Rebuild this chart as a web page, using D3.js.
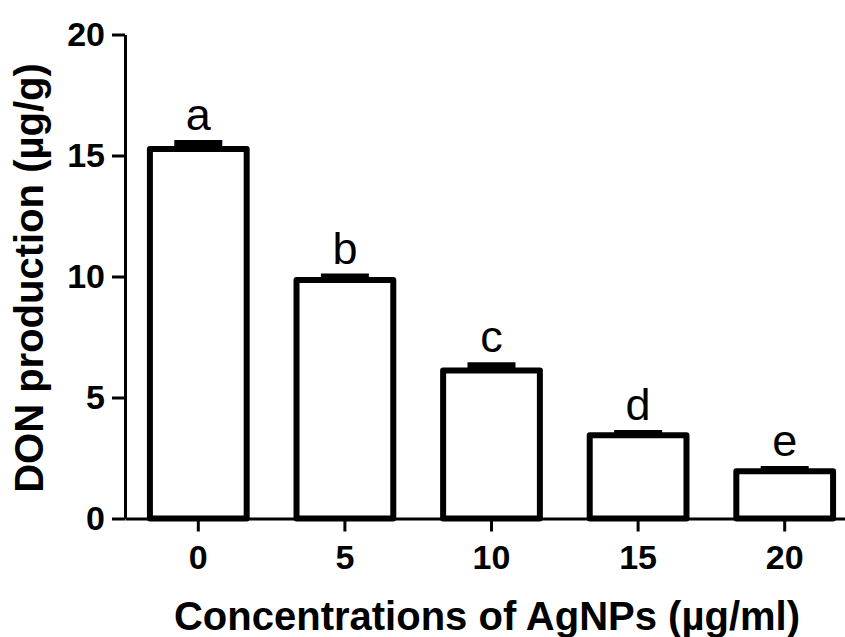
<!DOCTYPE html>
<html>
<head>
<meta charset="utf-8">
<script src="https://cdn.jsdelivr.net/npm/d3@7"></script>
<style>
  body { margin: 0; background: #fff; }
  text { font-family: "Liberation Sans", Arial, sans-serif; fill: #000; }
</style>
</head>
<body>
<div id="chart"></div>
<script>
// data
var concentrations = ["0", "5", "10", "15", "20"];
var donMeans = [15.27, 9.86, 6.12, 3.44, 1.95];
var donSem = [0.25, 0.14, 0.21, 0.09, 0.1];
var sigLetters = ["a", "b", "c", "d", "e"];
var yTicks = [0, 5, 10, 15, 20];

var width = 845, height = 637;

var svg = d3.select("#chart").append("svg")
    .attr("width", width)
    .attr("height", height);

var x = d3.scaleBand()
    .domain(concentrations)
    .range([125, 858])
    .paddingInner(0.34)
    .paddingOuter(0.17);

var y = d3.scaleLinear()
    .domain([0, 20])
    .range([518.5, 34.5]);

// y axis
var yAxis = svg.append("g")
    .attr("transform", "translate(125,0)")
    .call(d3.axisLeft(y).tickValues(yTicks).tickSize(13).tickSizeOuter(0).tickPadding(7));

// x axis
var xAxis = svg.append("g")
    .attr("transform", "translate(0," + y(0) + ")")
    .call(d3.axisBottom(x).tickSize(13).tickSizeOuter(0).tickPadding(13.5));

[yAxis, xAxis].forEach(function (g) {
    g.select(".domain").attr("stroke", "#000").attr("stroke-width", 3);
    g.selectAll(".tick line").attr("stroke", "#000").attr("stroke-width", 3);
    g.selectAll(".tick text")
        .style("font-family", "'Liberation Sans', Arial, sans-serif")
        .style("font-size", "34px")
        .style("font-weight", "bold")
        .attr("fill", "#000");
});

// bars
var bars = svg.selectAll(".bar")
    .data(concentrations)
    .enter().append("g")
    .attr("class", "bar");

bars.append("rect")
    .attr("x", function (d) { return x(d); })
    .attr("width", x.bandwidth())
    .attr("y", function (d, i) { return y(donMeans[i]); })
    .attr("height", function (d, i) { return y(0) - y(donMeans[i]); })
    .attr("fill", "#fff")
    .attr("stroke", "#000")
    .attr("stroke-width", 6)
    .attr("stroke-linejoin", "round");

// error bars (upper half only, like the original)
bars.append("line")
    .attr("x1", function (d) { return x(d) + x.bandwidth() / 2; })
    .attr("x2", function (d) { return x(d) + x.bandwidth() / 2; })
    .attr("y1", function (d, i) { return y(donMeans[i]); })
    .attr("y2", function (d, i) { return y(donMeans[i] + donSem[i]); })
    .attr("stroke", "#000")
    .attr("stroke-width", 6);

bars.append("line")
    .attr("x1", function (d) { return x(d) + x.bandwidth() / 2 - 24; })
    .attr("x2", function (d) { return x(d) + x.bandwidth() / 2 + 24; })
    .attr("y1", function (d, i) { return y(donMeans[i] + donSem[i]); })
    .attr("y2", function (d, i) { return y(donMeans[i] + donSem[i]); })
    .attr("stroke", "#000")
    .attr("stroke-width", 6);

// significance letters
bars.append("text")
    .attr("x", function (d) { return x(d) + x.bandwidth() / 2; })
    .attr("y", function (d, i) { return y(donMeans[i] + donSem[i]) - 13; })
    .attr("text-anchor", "middle")
    .style("font-size", "45px")
    .text(function (d, i) { return sigLetters[i]; });

// axis titles
svg.append("text")
    .attr("x", 487)
    .attr("y", 630)
    .attr("text-anchor", "middle")
    .style("font-size", "40px")
    .style("font-weight", "bold")
    .text("Concentrations of AgNPs (µg/ml)");

svg.append("text")
    .attr("transform", "translate(43,278) rotate(-90)")
    .attr("text-anchor", "middle")
    .style("font-size", "40px")
    .style("font-weight", "bold")
    .text("DON production (µg/g)");
</script>
</body>
</html>
